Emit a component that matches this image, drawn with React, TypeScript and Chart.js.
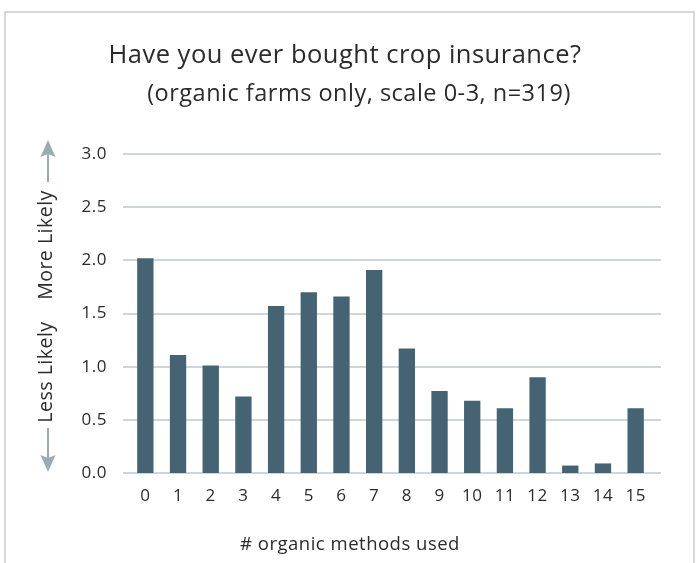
import React, { useEffect, useRef } from "react";
import { Chart, registerables } from "chart.js";

Chart.register(...registerables);

const categories: string[] = ["0", "1", "2", "3", "4", "5", "6", "7", "8", "9", "10", "11", "12", "13", "14", "15"];
const values: number[] = [2.02, 1.11, 1.01, 0.72, 1.57, 1.7, 1.66, 1.91, 1.17, 0.77, 0.68, 0.61, 0.9, 0.07, 0.09, 0.61];
const yTicks: number[] = [0, 0.5, 1, 1.5, 2, 2.5, 3];

const titleText = "Have you ever bought crop insurance?";
const subtitleText = "(organic farms only, scale 0-3, n=319)";
const xTitle = "# organic methods used";
const yLabelMore = "More Likely";
const yLabelLess = "Less Likely";

const FONT = "'Open Sans', 'Noto Sans', sans-serif";
const BAR = "#466373";
const GRID = "#cfd6db";
const ARROW = "#9aabb4";
const TEXT = "#2b2b2b";
const SPACING = "0.5px";

const decorPlugin = {
  id: "decor",
  beforeUpdate(chart: any) {
    chart.ctx.letterSpacing = SPACING;
  },
  beforeDraw(chart: any) {
    chart.ctx.letterSpacing = SPACING;
  },
  beforeDatasetsDraw(chart: any) {
    const { ctx, chartArea, scales } = chart;
    const y = scales.y;
    ctx.save();
    ctx.strokeStyle = GRID;
    ctx.lineWidth = 2;
    yTicks.forEach((v) => {
      const py = Math.round(y.getPixelForValue(v));
      ctx.beginPath();
      ctx.moveTo(chartArea.left - 6, py);
      ctx.lineTo(chartArea.right + 9, py);
      ctx.stroke();
    });
    ctx.restore();
  },
  afterDraw(chart: any) {
    const { ctx, chartArea } = chart;
    const cx = 48;
    const top = chartArea.top;
    const bottom = chartArea.bottom;
    ctx.save();
    ctx.letterSpacing = SPACING;
    ctx.fillStyle = TEXT;
    ctx.textAlign = "center";
    ctx.textBaseline = "alphabetic";
    ctx.font = `25.5px ${FONT}`;
    ctx.fillText(titleText, 345, 62.5);
    ctx.font = `23.5px ${FONT}`;
    ctx.fillText(subtitleText, 359, 100.5);
    // x axis title
    ctx.font = `18.5px ${FONT}`;
    ctx.textBaseline = "middle";
    ctx.fillText(xTitle, 350, bottom + 72);
    // rotated y labels
    ctx.font = `19.5px ${FONT}`;
    ctx.save();
    ctx.translate(cx - 2, top + 91);
    ctx.rotate(-Math.PI / 2);
    ctx.fillText(yLabelMore, 0, 0);
    ctx.restore();
    ctx.save();
    ctx.translate(cx - 2, top + 218);
    ctx.rotate(-Math.PI / 2);
    ctx.fillText(yLabelLess, 0, 0);
    ctx.restore();
    // arrows
    ctx.strokeStyle = ARROW;
    ctx.fillStyle = ARROW;
    ctx.lineWidth = 2;
    ctx.beginPath();
    ctx.moveTo(cx, top + 28);
    ctx.lineTo(cx, top + 0);
    ctx.stroke();
    ctx.beginPath();
    ctx.moveTo(cx, top - 14);
    ctx.lineTo(cx - 7.5, top + 3);
    ctx.lineTo(cx, top);
    ctx.lineTo(cx + 7.5, top + 3);
    ctx.closePath();
    ctx.fill();
    ctx.beginPath();
    ctx.moveTo(cx, bottom - 45);
    ctx.lineTo(cx, bottom - 5);
    ctx.stroke();
    ctx.beginPath();
    ctx.moveTo(cx, bottom - 1);
    ctx.lineTo(cx - 7.5, bottom - 18);
    ctx.lineTo(cx, bottom - 15);
    ctx.lineTo(cx + 7.5, bottom - 18);
    ctx.closePath();
    ctx.fill();
    ctx.restore();
  },
};

export default function App() {
  const ref = useRef<HTMLCanvasElement | null>(null);
  useEffect(() => {
    if (!ref.current) return;
    const chart = new Chart(ref.current, {
      type: "bar",
      data: {
        labels: categories,
        datasets: [
          {
            data: values,
            backgroundColor: BAR,
            borderWidth: 0,
            categoryPercentage: 1,
            barPercentage: 0.5,
          },
        ],
      },
      options: {
        animation: false,
        responsive: false,
        maintainAspectRatio: false,
        layout: { padding: { top: 154, left: 0, right: 48, bottom: 0 } },
        plugins: {
          legend: { display: false },
          tooltip: { enabled: false },
          title: { display: false },
        },
        scales: {
          x: {
            grid: { display: false },
            border: { display: false },
            ticks: { color: TEXT, font: { family: FONT, size: 17 }, padding: 5, maxRotation: 0, autoSkip: false },
            title: { display: false },
            afterFit: (scale: any) => {
              scale.height = 90;
            },
          },
          y: {
            min: 0,
            max: 3,
            grid: { display: false },
            border: { display: false },
            ticks: {
              stepSize: 0.5,
              color: TEXT,
              font: { family: FONT, size: 17 },
              padding: 14,
              callback: (v: any) => Number(v).toFixed(1),
            },
            afterFit: (scale: any) => {
              scale.width = 129;
            },
          },
        },
      },
      plugins: [decorPlugin],
    });
    return () => chart.destroy();
  }, []);

  return (
    <div style={{ position: "fixed", left: 0, top: 0, width: 700, height: 563, overflow: "hidden", background: "#fff" }}>
      <div
        style={{
          position: "absolute",
          left: 4,
          top: 11,
          width: 687,
          height: 620,
          border: "2px solid #d3d9dc",
          boxSizing: "content-box",
        }}
      />
      <canvas ref={ref} width={700} height={563} style={{ position: "absolute", left: 0, top: 0, width: 700, height: 563 }} />
    </div>
  );
}
